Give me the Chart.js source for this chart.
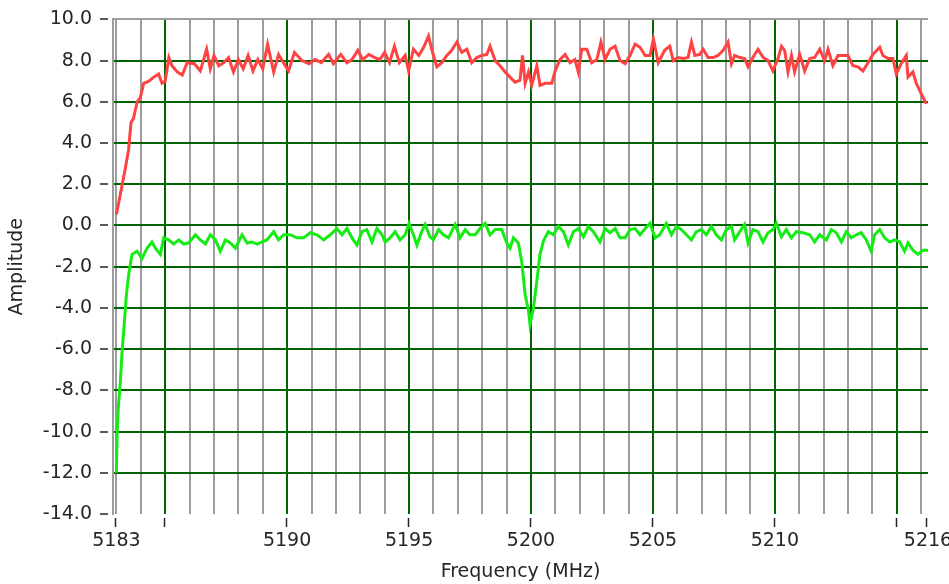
<!DOCTYPE html>
<html>
<head>
<meta charset="utf-8">
<script src="https://cdn.jsdelivr.net/npm/chart.js@4"></script>
<style>
  html, body { margin: 0; padding: 0; background: #fff; }
</style>
</head>
<body>
<canvas id="spectrumChart" width="949" height="584"></canvas>
<script>
// Measured channel response, two captures
const redFreq = [
  5183.0, 5183.16, 5183.37, 5183.5, 5183.6, 5183.7, 5183.85, 5183.98, 5184.12, 5184.33, 5184.53, 5184.73, 5184.87, 5185.0,
  5185.15, 5185.28, 5185.49, 5185.7, 5185.9, 5186.2, 5186.44, 5186.7, 5186.85, 5187.0,
  5187.2, 5187.4, 5187.6, 5187.8, 5188.0, 5188.2, 5188.4, 5188.6, 5188.8, 5189.0,
  5189.2, 5189.3, 5189.45, 5189.65, 5189.85, 5190.06, 5190.3, 5190.6, 5190.9, 5191.15,
  5191.4, 5191.7, 5191.9, 5192.2, 5192.45, 5192.66, 5192.9, 5193.1, 5193.35, 5193.6,
  5193.8, 5194.0, 5194.2, 5194.4, 5194.6, 5194.84, 5194.98, 5195.18, 5195.4, 5195.6,
  5195.8, 5195.93, 5196.14, 5196.34, 5196.55, 5196.75, 5196.96, 5197.16, 5197.37, 5197.57,
  5197.78, 5197.98, 5198.19, 5198.32, 5198.53, 5198.73, 5198.94, 5199.14, 5199.35, 5199.55,
  5199.65, 5199.76, 5199.9, 5200.03, 5200.24, 5200.37, 5200.58, 5200.85, 5200.99, 5201.19,
  5201.4, 5201.6, 5201.8, 5201.94, 5202.08, 5202.29, 5202.49, 5202.7, 5202.87, 5203.04,
  5203.24, 5203.45, 5203.65, 5203.86, 5204.06, 5204.27, 5204.47, 5204.68, 5204.88, 5205.02,
  5205.22, 5205.48, 5205.69, 5205.83, 5206.03, 5206.24, 5206.44, 5206.58, 5206.72, 5206.92,
  5207.06, 5207.26, 5207.47, 5207.67, 5207.88, 5208.08, 5208.22, 5208.35, 5208.56, 5208.76,
  5208.9, 5209.1, 5209.31, 5209.52, 5209.72, 5209.92, 5210.13, 5210.27, 5210.4, 5210.54,
  5210.68, 5210.81, 5211.02, 5211.22, 5211.43, 5211.63, 5211.84, 5212.04, 5212.18, 5212.38,
  5212.59, 5212.79, 5213.0, 5213.2, 5213.41, 5213.61, 5213.82, 5214.02, 5214.3, 5214.43,
  5214.64, 5214.84, 5214.98, 5215.18, 5215.39, 5215.46, 5215.66, 5215.8, 5216.0, 5216.21
];
const redAmp = [
  0.55, 1.5, 2.8, 3.7, 5.0, 5.2, 6.0, 6.2, 6.9, 7.0, 7.2, 7.35, 6.9, 7.0,
  8.15, 7.75, 7.45, 7.3, 7.9, 7.85, 7.5, 8.55, 7.6, 8.25,
  7.75, 7.9, 8.15, 7.45, 8.05, 7.6, 8.25, 7.5, 8.05, 7.6,
  8.8, 8.25, 7.45, 8.3, 7.9, 7.5, 8.4, 8.0, 7.85, 8.05,
  7.9, 8.3, 7.85, 8.3, 7.9, 8.05, 8.5, 8.05, 8.3, 8.15,
  8.05, 8.4, 7.9, 8.7, 7.9, 8.25, 7.5, 8.55, 8.25, 8.65,
  9.2, 8.55, 7.7, 7.9, 8.25, 8.5, 8.9, 8.4, 8.55, 7.9,
  8.15, 8.25, 8.3, 8.7, 8.0, 7.75, 7.45, 7.2, 6.95, 7.05,
  8.25, 6.9, 7.45, 6.8, 7.75, 6.8, 6.9, 6.9, 7.5, 8.05,
  8.3, 7.9, 8.05, 7.45, 8.55, 8.55, 7.9, 8.05, 8.9, 8.05,
  8.55, 8.7, 8.0, 7.85, 8.25, 8.8, 8.65, 8.25, 8.25, 9.05,
  7.9, 8.5, 8.7, 8.0, 8.15, 8.1, 8.15, 8.9, 8.25, 8.3,
  8.55, 8.15, 8.15, 8.25, 8.5, 8.9, 7.85, 8.25, 8.15, 8.1,
  7.7, 8.15, 8.55, 8.15, 8.0, 7.5, 8.1, 8.7, 8.5, 7.45,
  8.25, 7.45, 8.3, 7.5, 8.1, 8.15, 8.55, 8.0, 8.55, 7.75,
  8.25, 8.25, 8.25, 7.75, 7.7, 7.5, 7.9, 8.3, 8.65, 8.25,
  8.1, 8.1, 7.35, 7.85, 8.25, 7.2, 7.45, 6.9, 6.4, 5.9
];

const greenFreq = [
  5183.0, 5183.03, 5183.08, 5183.16, 5183.24, 5183.3, 5183.41, 5183.5, 5183.64, 5183.85,
  5184.05, 5184.26, 5184.46, 5184.6, 5184.8, 5184.94, 5185.14, 5185.35, 5185.55, 5185.76,
  5185.96, 5186.24, 5186.44, 5186.65, 5186.85, 5187.06, 5187.26, 5187.47, 5187.67, 5187.88,
  5188.15, 5188.36, 5188.56, 5188.77, 5188.97, 5189.17, 5189.45, 5189.65, 5189.86, 5190.13,
  5190.4, 5190.68, 5190.95, 5191.22, 5191.5, 5191.77, 5192.04, 5192.25, 5192.45, 5192.66,
  5192.86, 5193.07, 5193.27, 5193.48, 5193.68, 5193.89, 5194.02, 5194.22, 5194.43, 5194.63,
  5194.84, 5195.0, 5195.18, 5195.32, 5195.52, 5195.66, 5195.86, 5196.0, 5196.21, 5196.41,
  5196.62, 5196.89, 5197.09, 5197.3, 5197.5, 5197.71, 5197.91, 5198.12, 5198.32, 5198.53,
  5198.8, 5199.01, 5199.14, 5199.28, 5199.48, 5199.62, 5199.76, 5199.9, 5199.96, 5200.1,
  5200.24, 5200.37, 5200.51, 5200.71, 5200.92, 5201.12, 5201.33, 5201.53, 5201.74, 5201.94,
  5202.15, 5202.35, 5202.56, 5202.83, 5203.04, 5203.24, 5203.45, 5203.65, 5203.86, 5204.06,
  5204.27, 5204.47, 5204.68, 5204.88, 5205.09, 5205.28, 5205.55, 5205.76, 5205.96, 5206.17,
  5206.37, 5206.58, 5206.78, 5206.99, 5207.19, 5207.4, 5207.6, 5207.81, 5208.01, 5208.22,
  5208.35, 5208.56, 5208.76, 5208.9, 5209.1, 5209.31, 5209.51, 5209.72, 5209.92, 5210.06,
  5210.27, 5210.47, 5210.68, 5210.88, 5211.15, 5211.43, 5211.63, 5211.84, 5212.11, 5212.32,
  5212.52, 5212.73, 5212.93, 5213.13, 5213.34, 5213.54, 5213.75, 5213.95, 5214.09, 5214.3,
  5214.5, 5214.71, 5214.91, 5215.12, 5215.32, 5215.46, 5215.66, 5215.87, 5216.07, 5216.28
];
const greenAmp = [
  -12.0, -10.0, -8.8, -7.6, -6.0, -5.1, -3.35, -2.4, -1.4, -1.25,
  -1.6, -1.1, -0.8, -1.1, -1.4, -0.6, -0.7, -0.9, -0.7, -0.9,
  -0.85, -0.45, -0.7, -0.9, -0.45, -0.7, -1.25, -0.7, -0.85, -1.1,
  -0.45, -0.85, -0.8, -0.9, -0.8, -0.7, -0.3, -0.7, -0.45, -0.45,
  -0.6, -0.6, -0.35, -0.45, -0.7, -0.45, -0.15, -0.45, -0.15, -0.6,
  -0.95, -0.3, -0.2, -0.8, -0.15, -0.45, -0.8, -0.6, -0.3, -0.7,
  -0.45, 0.1, -0.45, -0.95, -0.3, 0.05, -0.55, -0.7, -0.2, -0.45,
  -0.6, 0.05, -0.6, -0.2, -0.45, -0.45, -0.15, 0.1, -0.45, -0.2,
  -0.2, -0.85, -1.1, -0.6, -0.85, -1.75, -3.35, -4.15, -4.8, -4.0,
  -2.7, -1.4, -0.75, -0.3, -0.45, -0.05, -0.3, -0.95, -0.3, -0.15,
  -0.55, -0.05, -0.3, -0.8, -0.15, -0.35, -0.15, -0.6, -0.6, -0.2,
  -0.15, -0.45, -0.15, 0.1, -0.6, -0.45, 0.1, -0.45, -0.05, -0.2,
  -0.45, -0.7, -0.3, -0.2, -0.45, -0.05, -0.45, -0.7, -0.2, -0.05,
  -0.7, -0.3, 0.05, -0.85, -0.2, -0.3, -0.8, -0.35, -0.2, 0.1,
  -0.55, -0.2, -0.6, -0.3, -0.35, -0.45, -0.8, -0.45, -0.7, -0.2,
  -0.35, -0.8, -0.3, -0.6, -0.45, -0.35, -0.7, -1.25, -0.45, -0.2,
  -0.6, -0.8, -0.7, -0.8, -1.25, -0.85, -1.2, -1.4, -1.2, -1.2
];

// axis range and tick layout
const freqMin = 5182.86;
const freqMax = 5216.28;
const labeledFreqs = [5183, 5190, 5195, 5200, 5205, 5210];
const markedFreqs = [5183, 5185, 5190, 5195, 5200, 5205, 5210, 5215];
const ampMin = -14;
const ampMax = 10;

const majorGrid = 'rgb(0,100,0)';
const minorGrid = '#9c9c9c';
const textColor = '#262626';
const axisFont = { family: 'DejaVu Sans', size: 19 };

function toPoints(xs, ys) {
    return xs.map((x, i) => ({ x: x, y: ys[i] }));
}

// short tick marks that sit a few pixels off the plot frame
const tickMarks = {
    id: 'tickMarks',
    afterDraw(chart) {
        const { ctx, chartArea, scales } = chart;
        ctx.save();
        ctx.strokeStyle = textColor;
        ctx.lineWidth = 1.5;
        ctx.beginPath();
        markedFreqs.concat([freqMax]).forEach(f => {
            const px = Math.round(scales.x.getPixelForValue(f)) - (f === freqMax ? 1.5 : 0.5);
            ctx.moveTo(px, chartArea.bottom + 4);
            ctx.lineTo(px, chartArea.bottom + 13);
        });
        scales.y.ticks.forEach(t => {
            const py = Math.round(scales.y.getPixelForValue(t.value));
            ctx.moveTo(chartArea.left - 13, py);
            ctx.lineTo(chartArea.left - 5, py);
        });
        ctx.stroke();
        ctx.restore();
    }
};

const ctx = document.getElementById('spectrumChart').getContext('2d');
const spectrumChart = new Chart(ctx, {
    type: 'line',
    data: {
        datasets: [{
            data: toPoints(redFreq, redAmp),
            borderColor: 'rgb(255,66,66)',
            borderWidth: 3,
            pointRadius: 0,
            tension: 0
        }, {
            data: toPoints(greenFreq, greenAmp),
            borderColor: 'rgb(20,236,20)',
            borderWidth: 3,
            pointRadius: 0,
            tension: 0
        }]
    },
    options: {
        responsive: false,
        animation: false,
        devicePixelRatio: 1,
        layout: { padding: { top: 16, right: 21, left: 0, bottom: 0 } },
        plugins: { legend: { display: false }, tooltip: { enabled: false } },
        scales: {
            x: {
                type: 'linear',
                min: freqMin,
                max: freqMax,
                afterBuildTicks: function(scale) {
                    const ticks = [];
                    for (let f = 5183; f <= 5216; f++) ticks.push({ value: f });
                    ticks.push({ value: freqMax });
                    scale.ticks = ticks;
                },
                afterFit: function(scale) {
                    scale.height = 70;
                    scale.paddingLeft = 0;
                    scale.paddingRight = 0;
                },
                border: { display: false },
                grid: {
                    color: c => {
                        const v = c.tick.value;
                        if (v === freqMax) return 'rgba(0,0,0,0)';
                        return v % 5 === 0 ? majorGrid : minorGrid;
                    },
                    lineWidth: 2,
                    tickLength: 13,
                    tickColor: 'rgba(0,0,0,0)'
                },
                ticks: {
                    autoSkip: false,
                    maxRotation: 0,
                    padding: 3,
                    color: textColor,
                    font: axisFont,
                    callback: function(value) {
                        if (value === freqMax) return String(Math.floor(freqMax));
                        return labeledFreqs.includes(value) ? String(value) : '';
                    }
                },
                title: {
                    display: true,
                    text: 'Frequency (MHz)',
                    color: textColor,
                    font: axisFont,
                    padding: { top: 0, bottom: 1 }
                }
            },
            y: {
                min: ampMin,
                max: ampMax,
                afterFit: function(scale) {
                    scale.width = 113;
                },
                border: { display: true, color: minorGrid, width: 2 },
                grid: {
                    color: c => {
                        const v = c.tick.value;
                        if (v === ampMax) return minorGrid;
                        if (v === ampMin) return 'rgba(0,0,0,0)';
                        return majorGrid;
                    },
                    lineWidth: 2,
                    tickLength: 13,
                    tickColor: 'rgba(0,0,0,0)'
                },
                ticks: {
                    stepSize: 2,
                    padding: 8,
                    color: textColor,
                    font: axisFont,
                    callback: v => v.toFixed(1)
                },
                title: {
                    display: true,
                    text: 'Amplitude',
                    color: textColor,
                    font: axisFont,
                    padding: { top: 6, bottom: 0 }
                }
            }
        }
    },
    plugins: [tickMarks]
});
</script>
</body>
</html>
